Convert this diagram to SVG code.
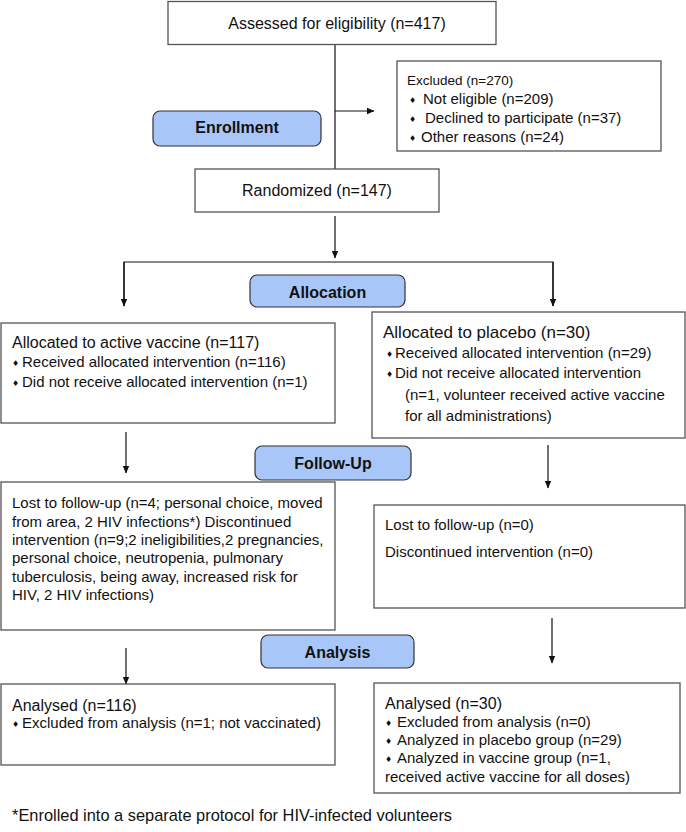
<svg xmlns="http://www.w3.org/2000/svg" width="686" height="832" viewBox="0 0 686 832">
<defs>
<style>
text{font-family:"Liberation Sans",Arial,sans-serif;fill:#111;}
.t16{font-size:16px;}
.t15{font-size:15px;}
.t13{font-size:13.5px;}
.b{font-size:16px;font-weight:bold;text-anchor:middle;}
.c{text-anchor:middle;}
.bul{font-family:"DejaVu Sans",sans-serif;font-size:8px;}
.box{fill:#fff;stroke:#555;stroke-width:1.3;}
.stage{fill:#a9c6f8;stroke:#333;stroke-width:1.2;}
.ln{fill:none;stroke:#111;stroke-width:1.2;}
</style>
<marker id="ah" markerWidth="8" markerHeight="8" refX="7" refY="4" orient="auto" markerUnits="userSpaceOnUse">
<path d="M0,0.8 L7.5,4 L0,7.2 Z" fill="#111"/>
</marker>
</defs>

<g id="connectors">
<line class="ln" x1="335" y1="45" x2="335" y2="169"/>
<line class="ln" x1="335" y1="111" x2="374" y2="111" marker-end="url(#ah)"/>
<line class="ln" x1="335" y1="216" x2="335" y2="258" marker-end="url(#ah)"/>
<polyline class="ln" points="124,306 124,262 553,262 553,306"/>
<line class="ln" x1="124" y1="262" x2="124" y2="306" marker-end="url(#ah)"/>
<line class="ln" x1="553" y1="262" x2="553" y2="306" marker-end="url(#ah)"/>
<line class="ln" x1="126" y1="432" x2="126" y2="473" marker-end="url(#ah)"/>
<line class="ln" x1="548" y1="445" x2="548" y2="488" marker-end="url(#ah)"/>
<line class="ln" x1="552" y1="618" x2="552" y2="663" marker-end="url(#ah)"/>
<line class="ln" x1="126" y1="648" x2="126" y2="684" marker-end="url(#ah)"/>
</g>

<g id="assessed">
<rect class="box" x="168" y="1.5" width="328" height="43"/>
<text class="t16 c" x="337" y="29">Assessed for eligibility (n=417)</text>
</g>

<g id="enrollment">
<rect class="stage" x="153" y="111" width="168" height="35" rx="7"/>
<text class="b" x="237" y="133">Enrollment</text>
</g>

<g id="excluded">
<rect class="box" x="397" y="61" width="264" height="90"/>
<text class="t13" x="407" y="85">Excluded (n=270)</text>
<text class="bul" x="409" y="103">♦</text>
<text class="t15" x="423" y="104">Not eligible (n=209)</text>
<text class="bul" x="409" y="122">♦</text>
<text class="t15" x="425" y="123">Declined to participate (n=37)</text>
<text class="bul" x="409" y="141">♦</text>
<text class="t15" x="421" y="142">Other reasons (n=24)</text>
</g>

<g id="randomized">
<rect class="box" x="195" y="169" width="244" height="43"/>
<text class="t16 c" x="317" y="196">Randomized (n=147)</text>
</g>

<g id="allocation">
<rect class="stage" x="250" y="275" width="155" height="32" rx="7"/>
<text class="b" x="327.5" y="298">Allocation</text>
</g>

<g id="alloc-active">
<rect class="box" x="1" y="323" width="334" height="100"/>
<text class="t16" x="12" y="348">Allocated to active vaccine (n=117)</text>
<text class="bul" x="12" y="366">♦</text>
<text class="t15" x="22" y="367">Received allocated intervention (n=116)</text>
<text class="bul" x="12" y="386">♦</text>
<text class="t15" x="22" y="387">Did not receive allocated intervention (n=1)</text>
</g>

<g id="alloc-placebo">
<rect class="box" x="372" y="312" width="313" height="126"/>
<text class="t16" x="383" y="338" style="font-size:17px">Allocated to placebo (n=30)</text>
<text class="bul" x="386" y="357">♦</text>
<text class="t15" x="395" y="358">Received allocated intervention (n=29)</text>
<text class="bul" x="386" y="377">♦</text>
<text class="t15" x="395" y="378">Did not receive allocated intervention</text>
<text class="t15" x="405" y="400">(n=1, volunteer received active vaccine</text>
<text class="t15" x="405" y="421">for all administrations)</text>
</g>

<g id="followup">
<rect class="stage" x="255" y="446" width="156" height="34" rx="7"/>
<text class="b" x="333" y="469">Follow-Up</text>
</g>

<g id="follow-active">
<rect class="box" x="1" y="482" width="334" height="148"/>
<text class="t15" x="12" y="508">Lost to follow-up (n=4; personal choice, moved</text>
<text class="t15" x="12" y="527">from area, 2 HIV infections*) Discontinued</text>
<text class="t15" x="12" y="545">intervention (n=9;2 ineligibilities,2 pregnancies,</text>
<text class="t15" x="12" y="563">personal choice, neutropenia, pulmonary</text>
<text class="t15" x="12" y="582">tuberculosis, being away, increased risk for</text>
<text class="t15" x="12" y="600">HIV, 2 HIV infections)</text>
</g>

<g id="follow-placebo">
<rect class="box" x="374" y="505" width="311" height="103"/>
<text class="t15" x="385" y="530">Lost to follow-up (n=0)</text>
<text class="t15" x="385" y="557">Discontinued intervention (n=0)</text>
</g>

<g id="analysis">
<rect class="stage" x="261" y="635" width="153" height="33" rx="7"/>
<text class="b" x="337.5" y="658">Analysis</text>
</g>

<g id="analysed-active">
<rect class="box" x="1" y="684" width="334" height="81"/>
<text class="t16" x="12" y="711">Analysed (n=116)</text>
<text class="bul" x="12" y="727">♦</text>
<text class="t15" x="22" y="728">Excluded from analysis (n=1; not vaccinated)</text>
</g>

<g id="analysed-placebo">
<rect class="box" x="374" y="683" width="306" height="110"/>
<text class="t16" x="385" y="709">Analysed (n=30)</text>
<text class="bul" x="385" y="726">♦</text>
<text class="t15" x="397" y="727">Excluded from analysis (n=0)</text>
<text class="bul" x="385" y="744">♦</text>
<text class="t15" x="397" y="745">Analyzed in placebo group (n=29)</text>
<text class="bul" x="385" y="762">♦</text>
<text class="t15" x="397" y="763">Analyzed in vaccine group (n=1,</text>
<text class="t15" x="385" y="782">received active vaccine for all doses)</text>
</g>

<g id="footnote">
<text class="t16" x="12" y="821" style="font-size:16.4px">*Enrolled into a separate protocol for HIV-infected volunteers</text>
</g>
</svg>
